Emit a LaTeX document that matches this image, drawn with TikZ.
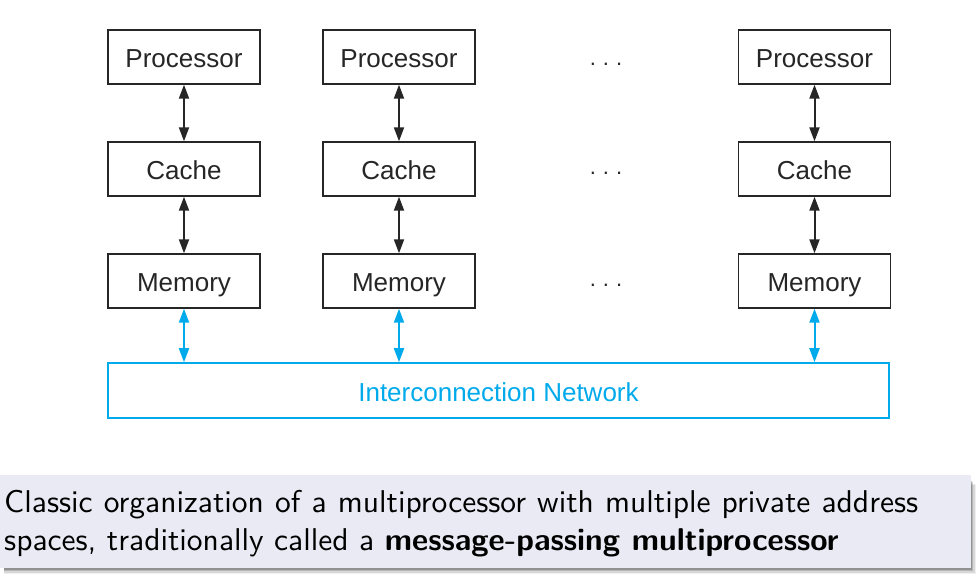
\documentclass[tikz,border=0pt]{standalone}
\usepackage{fontspec}
\newfontfamily\helv{Liberation Sans}
\newfontfamily\capfont{lmsans10-regular.otf}[BoldFont=lmsans10-bold.otf]
\usetikzlibrary{arrows.meta}
\definecolor{netcyan}{RGB}{0,170,235}
\definecolor{blockbg}{RGB}{234,234,244}
\tikzset{
  unit/.style={draw=black!85, line width=1.4pt, minimum width=152pt, minimum height=54pt, inner sep=0pt, text height=21pt, text depth=0pt, font=\helv\fontsize{26}{30}\selectfont, text=black!85},
  link/.style={line width=2pt, black!85, {Triangle[width=10pt,length=14pt]}-{Triangle[width=10pt,length=14pt]}},
  netlink/.style={line width=2pt, netcyan, {Triangle[width=10pt,length=14pt]}-{Triangle[width=10pt,length=14pt]}},
  dots/.style={font=\helv\fontsize{22}{24}\selectfont, text=black!85}
}
\begin{document}
\begin{tikzpicture}[x=1pt,y=-1pt]
\useasboundingbox (0,0) rectangle (978,580);
\fill[white] (0,0) rectangle (978,580);
% columns
\foreach \c/\x in {a/184, b/399, c/814.5}{
  \node[unit] (p\c) at (\x,57) {Processor};
  \node[unit] (k\c) at (\x,169) {Cache};
  \node[unit] (m\c) at (\x,281) {Memory};
  \draw[link] (p\c.south) -- (k\c.north);
  \draw[link] (k\c.south) -- (m\c.north);
}
\node[dots] (d1) at (606,64) {.\hspace{7pt}.\hspace{7pt}.};
\node[dots] (d2) at (606,173) {.\hspace{7pt}.\hspace{7pt}.};
\node[dots] (d3) at (606,285) {.\hspace{7pt}.\hspace{7pt}.};
\node[unit, draw=netcyan, line width=1.6pt, minimum width=781pt, minimum height=55pt, text=netcyan] (net) at (498.5,390.5) {Interconnection Network};
\foreach \c in {a,b,c}{
  \draw[netlink] (m\c.south) -- (m\c.south |- net.north);
}
% caption block with shadow
\foreach \i/\o in {7/0.06,5.5/0.1,4/0.15,2.5/0.2,1/0.25}{
  \fill[black, opacity=\o] (4,478+\i) rectangle (969+\i,567+\i);
}
\fill[blockbg] (0,475) rectangle (971,568);
\node[anchor=base west, inner sep=0pt, text=black] (cap) at (4,512.5) {\capfont\fontsize{31.5}{37.5}\selectfont\parbox[t]{914pt}{\parindent=0pt Classic organization of a multiprocessor with multiple private address\linebreak spaces, traditionally called a \textbf{message-passing multiprocessor}}};
\end{tikzpicture}
\end{document}
